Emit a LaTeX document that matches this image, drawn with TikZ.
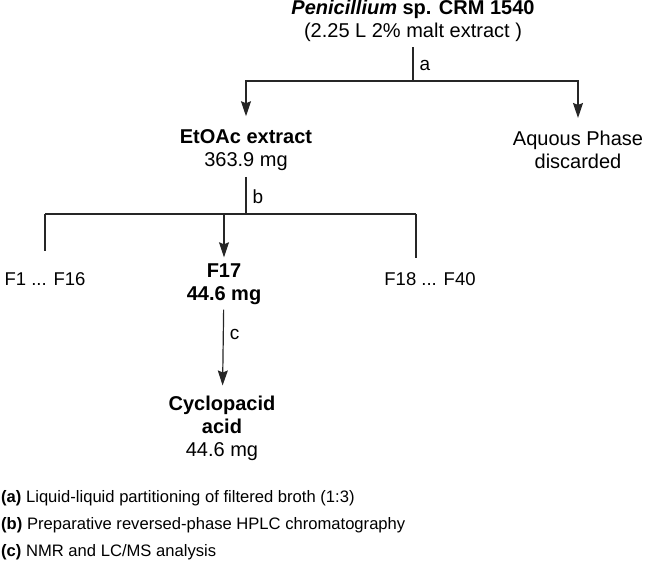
\documentclass[tikz,border=0pt]{standalone}
\usepackage{fontspec}
\setmainfont{Liberation Sans}
\usetikzlibrary{arrows.meta,positioning}
\tikzset{
  flow/.style={draw=black!85, line width=1.2pt},
  flowarrow/.style={flow, -{Stealth[length=15pt,width=10pt,inset=2pt]}},
  stage/.style={align=center, inner sep=0pt, font=\fontsize{20}{23}\selectfont},
  fraction/.style={inner sep=0pt, font=\fontsize{18.5}{22}\selectfont},
  steplabel/.style={anchor=west, inner sep=0pt, xshift=6pt, font=\fontsize{19}{22}\selectfont},
  legendline/.style={anchor=west, inner sep=0pt, font=\fontsize{16.6}{20}\selectfont}
}
\begin{document}
\begin{tikzpicture}[x=1pt,y=-1pt]
    \useasboundingbox (0,0) rectangle (645,577);
    %% Culture and partitioning
    \node[stage] (src) at (413,21) {\textbf{\textit{Penicillium} sp. CRM 1540}\\(2.25 L 2\% malt extract )};
    \coordinate (ja) at (413,81);
    \node[stage] (etoac) at (246,150) {\textbf{EtOAc extract}\\363.9 mg};
    \node[stage] (aq) at (578,150) {Aquous Phase\\discarded};
    \draw[flow, shorten <=5pt] (src) -- node[steplabel, pos=0.6] {a} (ja);
    \draw[flowarrow, shorten >=13pt] (ja) -| (etoac);
    \draw[flowarrow, shorten >=13pt] (ja) -| (aq);
    %% HPLC fractions
    \coordinate (jb) at (246,214);
    \coordinate (jl) at (45,214);
    \coordinate (jr) at (416,214);
    \node[fraction] (f1) at (45,279) {F1 ... F16};
    \node[fraction] (f18) at (430,279) {F18 ... F40};
    \node[stage] (f17) at (224,284) {\textbf{F17}\\\textbf{44.6 mg}};
    \draw[flow, shorten <=6pt] (etoac) -- node[steplabel, pos=0.6] {b} (jb);
    \draw[flow] (jl) -- (jr);
    \draw[flow, shorten >=21pt] (jl) -- (f1);
    \draw[flow, shorten >=21pt] (jr) -- (jr |- f1);
    \draw[flowarrow, shorten >=6pt] (f17 |- jb) -- (f17);
    %% Isolated compound
    \node[stage] (cyclo) at (222,428) {\textbf{Cyclopacid}\\\textbf{acid}\\44.6 mg};
    \draw[flowarrow, shorten <=5pt, shorten >=10pt] (f17) -- node[steplabel, pos=0.33] {c} (cyclo);
    %% Legend
    \node[legendline] (la) at (1,498) {\textbf{(a)} Liquid-liquid partitioning of filtered broth (1:3)};
    \node[legendline] (lb) at (1,525) {\textbf{(b)} Preparative reversed-phase HPLC chromatography};
    \node[legendline] (lc) at (1,552) {\textbf{(c)} NMR and LC/MS analysis};
\end{tikzpicture}
\end{document}
